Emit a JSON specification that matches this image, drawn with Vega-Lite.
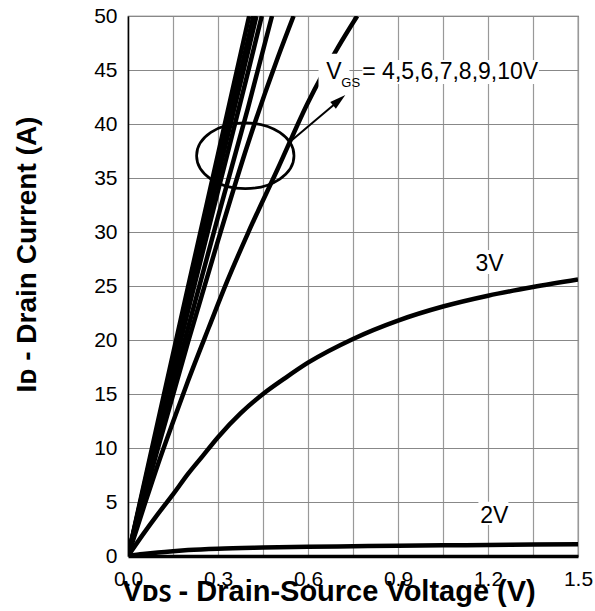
{
  "$schema": "https://vega.github.io/schema/vega-lite/v6.json",
  "width": 450,
  "height": 540,
  "autosize": "none",
  "padding": {"left": 128, "top": 16, "right": 17, "bottom": 55},
  "background": "white",
  "config": {"view": {"stroke": "#555", "strokeWidth": 1.2}, "font": "Liberation Sans"},
  "datasets": {
    "curves": [
      {"s": "2V", "vds": 0, "id": 0}, {"s": "2V", "vds": 0.05, "id": 0.18}, {"s": "2V", "vds": 0.1, "id": 0.33}, {"s": "2V", "vds": 0.15, "id": 0.45}, {"s": "2V", "vds": 0.2, "id": 0.55}, {"s": "2V", "vds": 0.3, "id": 0.68}, {"s": "2V", "vds": 0.45, "id": 0.78}, {"s": "2V", "vds": 0.6, "id": 0.85}, {"s": "2V", "vds": 0.75, "id": 0.9}, {"s": "2V", "vds": 0.9, "id": 0.95}, {"s": "2V", "vds": 1.05, "id": 0.99}, {"s": "2V", "vds": 1.2, "id": 1.02}, {"s": "2V", "vds": 1.35, "id": 1.06}, {"s": "2V", "vds": 1.5, "id": 1.09},
      {"s": "3V", "vds": 0, "id": 0}, {"s": "3V", "vds": 0.05, "id": 2.0}, {"s": "3V", "vds": 0.1, "id": 3.9}, {"s": "3V", "vds": 0.15, "id": 5.7}, {"s": "3V", "vds": 0.2, "id": 7.6}, {"s": "3V", "vds": 0.25, "id": 9.3}, {"s": "3V", "vds": 0.3, "id": 11.0}, {"s": "3V", "vds": 0.375, "id": 13.2}, {"s": "3V", "vds": 0.45, "id": 15.0}, {"s": "3V", "vds": 0.525, "id": 16.5}, {"s": "3V", "vds": 0.6, "id": 17.9}, {"s": "3V", "vds": 0.75, "id": 20.1}, {"s": "3V", "vds": 0.9, "id": 21.8}, {"s": "3V", "vds": 1.05, "id": 23.1}, {"s": "3V", "vds": 1.2, "id": 24.1}, {"s": "3V", "vds": 1.35, "id": 24.9}, {"s": "3V", "vds": 1.5, "id": 25.6},
      {"s": "4V", "vds": 0, "id": 0}, {"s": "4V", "vds": 0.05, "id": 4.3}, {"s": "4V", "vds": 0.1, "id": 8.5}, {"s": "4V", "vds": 0.15, "id": 12.4}, {"s": "4V", "vds": 0.2, "id": 16.2}, {"s": "4V", "vds": 0.27, "id": 21.2}, {"s": "4V", "vds": 0.33, "id": 25.4}, {"s": "4V", "vds": 0.4, "id": 29.9}, {"s": "4V", "vds": 0.5, "id": 35.9}, {"s": "4V", "vds": 0.6, "id": 42.0}, {"s": "4V", "vds": 0.7, "id": 47.1}, {"s": "4V", "vds": 0.764, "id": 50},
      {"s": "5V", "vds": 0, "id": 0}, {"s": "5V", "vds": 0.1, "id": 10.0}, {"s": "5V", "vds": 0.2, "id": 19.8}, {"s": "5V", "vds": 0.3, "id": 29.2}, {"s": "5V", "vds": 0.4, "id": 38.2}, {"s": "5V", "vds": 0.5, "id": 46.2}, {"s": "5V", "vds": 0.552, "id": 50},
      {"s": "6V", "vds": 0, "id": 0}, {"s": "6V", "vds": 0.1, "id": 10.6}, {"s": "6V", "vds": 0.2, "id": 21.1}, {"s": "6V", "vds": 0.3, "id": 31.4}, {"s": "6V", "vds": 0.4, "id": 41.5}, {"s": "6V", "vds": 0.48, "id": 50},
      {"s": "7V", "vds": 0, "id": 0}, {"s": "7V", "vds": 0.1, "id": 11.4}, {"s": "7V", "vds": 0.2, "id": 22.7}, {"s": "7V", "vds": 0.3, "id": 33.8}, {"s": "7V", "vds": 0.4, "id": 44.8}, {"s": "7V", "vds": 0.446, "id": 50},
      {"s": "8V", "vds": 0, "id": 0}, {"s": "8V", "vds": 0.1, "id": 11.8}, {"s": "8V", "vds": 0.2, "id": 23.6}, {"s": "8V", "vds": 0.3, "id": 35.2}, {"s": "8V", "vds": 0.4, "id": 46.7}, {"s": "8V", "vds": 0.428, "id": 50},
      {"s": "9V", "vds": 0, "id": 0}, {"s": "9V", "vds": 0.1, "id": 12.1}, {"s": "9V", "vds": 0.2, "id": 24.1}, {"s": "9V", "vds": 0.3, "id": 36.0}, {"s": "9V", "vds": 0.4, "id": 47.8}, {"s": "9V", "vds": 0.418, "id": 50},
      {"s": "10V", "vds": 0, "id": 0}, {"s": "10V", "vds": 0.1, "id": 12.5}, {"s": "10V", "vds": 0.2, "id": 24.9}, {"s": "10V", "vds": 0.3, "id": 37.2}, {"s": "10V", "vds": 0.404, "id": 50}
    ],
    "ellipse": [{"vds": 0.391, "id": 37.06}],
    "arrow": [{"vds": 0.547, "id": 38.52, "vds2": 0.704, "id2": 42.2}],
    "head": [{"vds": 0.704, "id": 42.2}],
    "boxes": [
      {"vds": 0.635, "vds2": 0.738, "id": 43.15, "id2": 46.5},
      {"vds": 0.781, "vds2": 1.37, "id": 43.7, "id2": 45.93},
      {"vds": 1.147, "vds2": 1.252, "id": 26.11, "id2": 28.33},
      {"vds": 1.168, "vds2": 1.268, "id": 2.87, "id2": 5.03}
    ],
    "bigtext": [
      {"vds": 0.661, "id": 44.17, "t": "V"},
      {"vds": 0.781, "id": 44.17, "t": "= 4,5,6,7,8,9,10V"},
      {"vds": 1.158, "id": 26.4, "t": "3V"},
      {"vds": 1.174, "id": 3.06, "t": "2V"}
    ],
    "subtext": [{"vds": 0.711, "id": 43.39, "t": "GS"}]
  },
  "layer": [
    {
      "data": {"name": "curves"},
      "mark": {"type": "line", "color": "black", "strokeWidth": 4.5, "interpolate": "monotone", "clip": true},
      "encoding": {
        "x": {
          "field": "vds", "type": "quantitative",
          "scale": {"domain": [0, 1.5], "nice": false, "zero": false},
          "axis": {
            "values": [0, 0.15, 0.3, 0.45, 0.6, 0.75, 0.9, 1.05, 1.2, 1.35, 1.5],
            "labelExpr": "round(datum.value*100) % 30 == 0 ? format(datum.value, '.1f') : ''",
            "grid": true, "gridColor": "#999", "gridWidth": 1.2,
            "ticks": false, "labelPadding": 12, "labelFontSize": 21, "labelFont": "Liberation Sans", "labelColor": "black",
            "labelFlush": false, "labelOverlap": false,
            "domainColor": "black", "domainWidth": 3.5,
            "title": "Vᴅꜱ - Drain-Source Voltage (V)",
            "titleFont": "Liberation Sans", "titleFontSize": 29, "titleFontWeight": "bold", "titleColor": "black",
            "titleX": -6, "titleY": 44, "titleAlign": "left", "titleBaseline": "alphabetic"
          }
        },
        "y": {
          "field": "id", "type": "quantitative",
          "scale": {"domain": [0, 50], "nice": false, "zero": false},
          "axis": {
            "values": [0, 2.5, 5, 7.5, 10, 12.5, 15, 17.5, 20, 22.5, 25, 27.5, 30, 32.5, 35, 37.5, 40, 42.5, 45, 47.5, 50],
            "labelExpr": "datum.value % 5 == 0 ? format(datum.value, 'd') : ''",
            "grid": true, "gridColor": "#888", "gridWidth": 1.2,
            "ticks": false, "labelPadding": 11, "labelFontSize": 21, "labelFont": "Liberation Sans", "labelColor": "black",
            "labelOverlap": false, "labelFlush": false,
            "domainColor": "black", "domainWidth": 1.5,
            "title": "Iᴅ - Drain Current (A)",
            "titleFont": "Liberation Sans", "titleFontSize": 28, "titleFontWeight": "bold", "titleColor": "black",
            "titleX": -93, "titleY": 238, "titleAngle": -90, "titleAlign": "center", "titleBaseline": "alphabetic"
          }
        },
        "detail": {"field": "s", "type": "nominal"}
      }
    },
    {
      "data": {"name": "ellipse"},
      "mark": {"type": "point", "shape": "M -1 0 A 1 0.6756 0 1 1 1 0 A 1 0.6756 0 1 1 -1 0 Z", "size": 9487, "filled": false, "stroke": "black", "strokeWidth": 2.7, "opacity": 1},
      "encoding": {"x": {"field": "vds", "type": "quantitative"}, "y": {"field": "id", "type": "quantitative"}}
    },
    {
      "data": {"name": "arrow"},
      "mark": {"type": "rule", "color": "black", "strokeWidth": 2},
      "encoding": {
        "x": {"field": "vds", "type": "quantitative"}, "y": {"field": "id", "type": "quantitative"},
        "x2": {"field": "vds2"}, "y2": {"field": "id2"}
      }
    },
    {
      "data": {"name": "head"},
      "mark": {"type": "point", "shape": "M 0 -1 L 0.55 1 L -0.55 1 Z", "size": 256, "filled": true, "color": "black", "opacity": 1, "angle": 50},
      "encoding": {"x": {"field": "vds", "type": "quantitative"}, "y": {"field": "id", "type": "quantitative"}}
    },
    {
      "data": {"name": "boxes"},
      "mark": {"type": "rect", "color": "white"},
      "encoding": {
        "x": {"field": "vds", "type": "quantitative"}, "x2": {"field": "vds2"},
        "y": {"field": "id", "type": "quantitative"}, "y2": {"field": "id2"}
      }
    },
    {
      "data": {"name": "bigtext"},
      "mark": {"type": "text", "font": "Liberation Sans", "fontSize": 23, "align": "left", "baseline": "alphabetic", "color": "black"},
      "encoding": {"x": {"field": "vds", "type": "quantitative"}, "y": {"field": "id", "type": "quantitative"}, "text": {"field": "t"}}
    },
    {
      "data": {"name": "subtext"},
      "mark": {"type": "text", "font": "Liberation Sans", "fontSize": 13, "align": "left", "baseline": "alphabetic", "color": "black"},
      "encoding": {"x": {"field": "vds", "type": "quantitative"}, "y": {"field": "id", "type": "quantitative"}, "text": {"field": "t"}}
    }
  ]
}
